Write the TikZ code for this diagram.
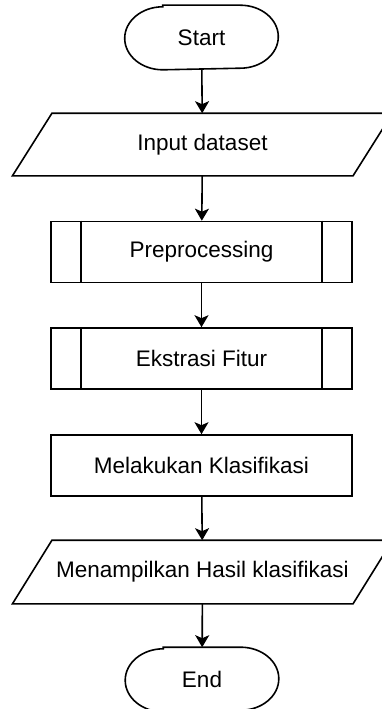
\documentclass[tikz,border=0pt]{standalone}
\usepackage{fontspec}
\setmainfont{Liberation Sans}
\usetikzlibrary{arrows.meta,calc}

\tikzset{
  base/.style={line width=1.6pt, inner sep=0pt, align=center,
    font=\fontsize{22.5}{27}\selectfont},
  terminal/.style={base, minimum width=152pt, minimum height=63pt},
  process/.style={base, draw, minimum width=301pt, minimum height=61pt},
  io/.style={base, minimum width=339pt, minimum height=61pt},
  flow/.style={line width=1.6pt, -{Stealth[length=12pt,width=14pt,inset=3pt]}}
}

\begin{document}
\begin{tikzpicture}[x=1pt,y=-1pt]
  \useasboundingbox (0,0) rectangle (382,709);
  \clip (0,0) rectangle (382,709);
  \fill[white] (0,0) rectangle (382,709);

  % flowchart nodes
  \node[terminal] (start) at (201.5,37.5) {Start};
  \node[io]       (input) at (202.5,144.5) {Input dataset};
  \node[process]  (prep)  at (201.5,252) {Preprocessing};
  \node[process]  (feat)  at (201.5,358.5) {Ekstrasi Fitur};
  \node[process]  (clf)   at (201.5,465.5) {Melakukan Klasifikasi};
  \node[io, minimum height=62pt] (output) at (202.5,572) {Menampilkan Hasil klasifikasi};
  \node[terminal] (end)   at (202,679.5) {End};

  % terminator outlines with elliptical ends
  \foreach \n in {start,end}{
    \draw[line width=1.6pt]
      ($(\n.north west)+(38,0)$) -- ($(\n.north east)+(-38,0)$)
      arc[start angle=90, end angle=-90, x radius=38pt, y radius=31.5pt]
      -- ($(\n.south west)+(38,0)$)
      arc[start angle=270, end angle=90, x radius=38pt, y radius=31.5pt]
      -- cycle;
  }

  % parallelogram outlines of the input/output nodes
  \foreach \n in {input,output}{
    \draw[line width=1.6pt, line join=miter]
      ($(\n.north west)+(19.75,0)$) -- ($(\n.north east)+(19.75,0)$) --
      ($(\n.south east)+(-19.75,0)$) -- ($(\n.south west)+(-19.75,0)$) -- cycle;
  }

  % inner side bars of the predefined-process boxes
  \foreach \n in {prep,feat}{
    \draw[line width=1.6pt]
      ($(\n.north west)+(31,0)$) -- ($(\n.south west)+(31,0)$)
      ($(\n.north east)+(-31,0)$) -- ($(\n.south east)+(-31,0)$);
  }

  % connectors
  \draw[flow] (start) -- (input);
  \draw[flow] (input) -- (prep);
  \draw[flow] (prep) -- (feat);
  \draw[flow] (feat) -- (clf);
  \draw[flow] (clf) -- (output);
  \draw[flow] (output) -- (end);
\end{tikzpicture}
\end{document}
